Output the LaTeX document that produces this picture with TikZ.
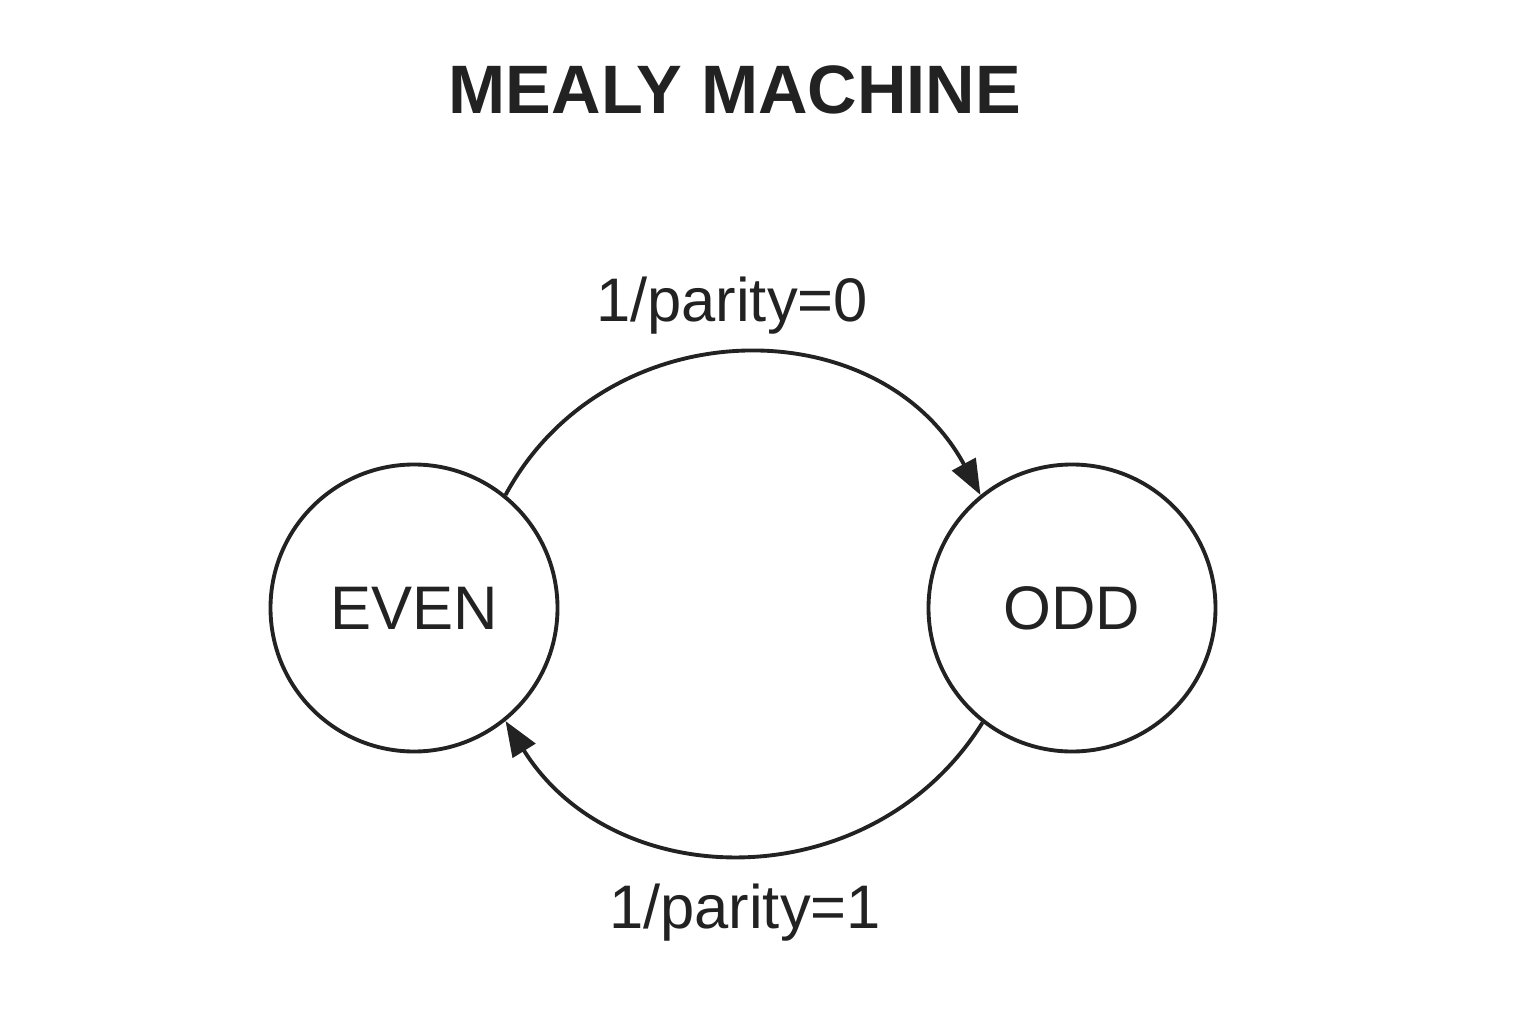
\documentclass[tikz,border=0pt]{standalone}
\usepackage{xcolor}
\usepackage{fontspec}
\setmainfont{Liberation Sans}
\usetikzlibrary{arrows.meta}
\definecolor{ink}{HTML}{222222}

\begin{document}
\begin{tikzpicture}[
  state/.style={draw=ink,circle,line width=1.1pt,minimum size=2.87cm,inner sep=0pt,
    text=ink,font=\fontsize{17.5}{20}\selectfont},
  edgelabel/.style={text=ink,anchor=base,font=\fontsize{17.5}{20}\selectfont},
  trans/.style={draw=ink,line width=1.1pt,-{Triangle[length=10pt,width=7.5pt]}}]
\useasboundingbox (0,0) rectangle (15.36,10.24);
\node[text=ink,anchor=base,font=\fontsize{19.5}{23}\selectfont\bfseries] (title) at (7.35,9.10) {MEALY MACHINE};
\node[state] (even) at (4.14,4.16) {EVEN};
\node[state] (odd) at (10.72,4.16) {ODD};
\draw[trans] (even.51) to[out=61.6,in=118.4,looseness=1.15] (odd.129);
\draw[trans] (odd.232) to[out=-122,in=-58,looseness=1.11] (even.-51);
\node[edgelabel] (top) at (7.32,7.02) {1/parity=0};
\node[edgelabel] (bottom) at (7.45,0.96) {1/parity=1};
\end{tikzpicture}
\end{document}
